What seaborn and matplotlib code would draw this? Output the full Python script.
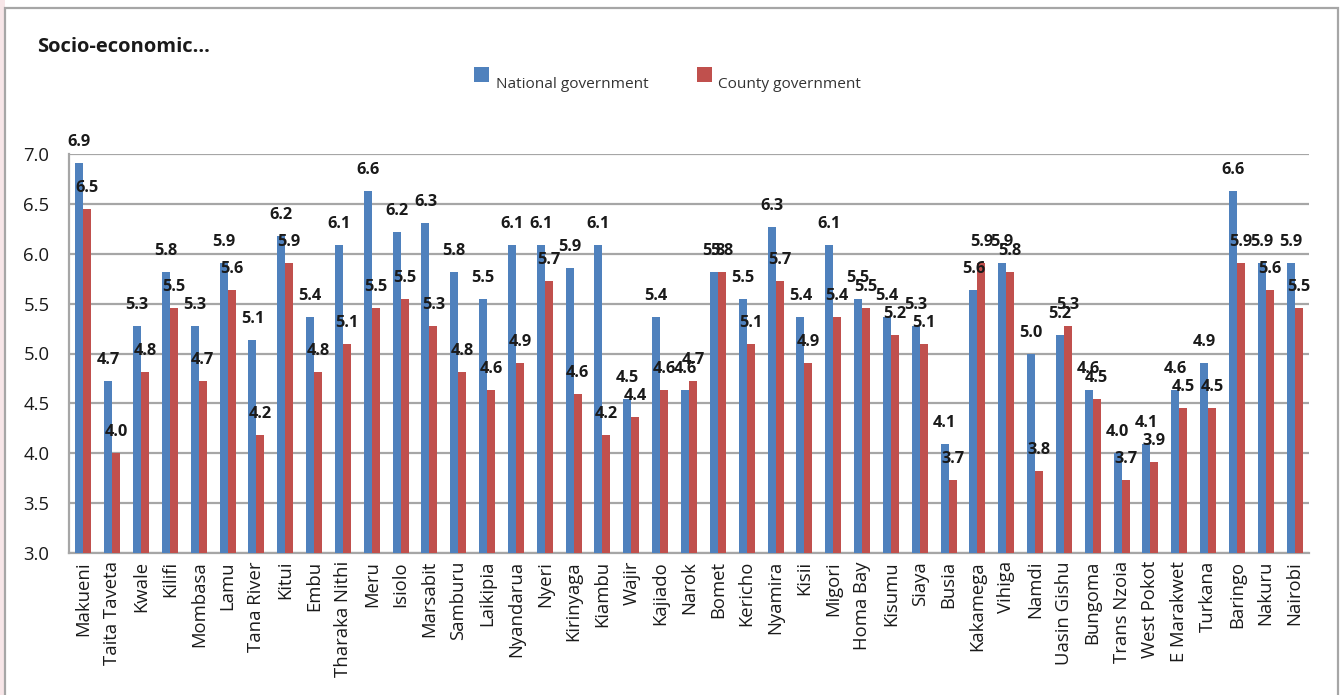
import matplotlib
matplotlib.use("Agg")
import matplotlib.pyplot as plt
from matplotlib.patches import Rectangle
import numpy as np
import pandas as pd
import seaborn as sns

counties = [
    "Makueni", "Taita Taveta", "Kwale", "Kilifi", "Mombasa", "Lamu", "Tana River",
    "Kitui", "Embu", "Tharaka Nithi", "Meru", "Isiolo", "Marsabit", "Samburu",
    "Laikipia", "Nyandarua", "Nyeri", "Kirinyaga", "Kiambu", "Wajir", "Kajiado",
    "Narok", "Bomet", "Kericho", "Nyamira", "Kisii", "Migori", "Homa Bay", "Kisumu",
    "Siaya", "Busia", "Kakamega", "Vihiga", "Namdi", "Uasin Gishu", "Bungoma",
    "Trans Nzoia", "West Pokot", "E Marakwet", "Turkana", "Baringo", "Nakuru", "Nairobi",
]

national = [
    6.909, 4.727, 5.273, 5.818, 5.273, 5.909, 5.14, 6.182, 5.364, 6.091, 6.636,
    6.22, 6.31, 5.818, 5.545, 6.091, 6.091, 5.86, 6.091, 4.545, 5.364, 4.636,
    5.818, 5.545, 6.273, 5.364, 6.091, 5.545, 5.364, 5.273, 4.091, 5.636, 5.909,
    5.000, 5.182, 4.636, 4.000, 4.091, 4.636, 4.909, 6.636, 5.909, 5.909,
]

county = [
    6.455, 4.000, 4.818, 5.455, 4.727, 5.636, 4.182, 5.909, 4.818, 5.091, 5.455,
    5.545, 5.273, 4.818, 4.636, 4.909, 5.727, 4.59, 4.182, 4.364, 4.636, 4.727,
    5.818, 5.091, 5.727, 4.909, 5.364, 5.455, 5.182, 5.091, 3.727, 5.909, 5.818,
    3.818, 5.273, 4.545, 3.727, 3.909, 4.455, 4.455, 5.909, 5.636, 5.455,
]

series_names = ["National government", "County government"]
series_colors = ["#4F81BD", "#C0504D"]
y_ticks = [3.0, 3.5, 4.0, 4.5, 5.0, 5.5, 6.0, 6.5, 7.0]
title = "Socio-economic..."

df = pd.DataFrame({
    "County": counties * 2,
    "Score": national + county,
    "Level": [series_names[0]] * len(counties) + [series_names[1]] * len(counties),
})

sns.set_theme(style="white")
plt.rcParams["font.family"] = ["Open Sans", "DejaVu Sans"]

W, H = 1344, 695
fig = plt.figure(figsize=(W / 100, H / 100), dpi=100)
fig.patch.set_facecolor("white")

# page edge and chart frame, kept behind the axes
fig.patches.append(Rectangle((0, 0), 5 / W, 1, transform=fig.transFigure,
                             facecolor="#F7E6E8", edgecolor="none", zorder=-10))
fig.patches.append(Rectangle((5 / W, -0.05), 1333 / W, 1 - 8 / H + 0.05,
                             transform=fig.transFigure, facecolor="white",
                             edgecolor="#A6A6A6", linewidth=1.6, zorder=-9))

ax = fig.add_axes([69 / W, 1 - 552.7 / H, (1309 - 69) / W, (552.7 - 154.3) / H])
ax.set_zorder(1)
ax.set_facecolor("none")

grid_col = "#A6A6A6"
sns.barplot(data=df, x="County", y="Score", hue="Level", hue_order=series_names,
            palette=series_colors, width=0.555, gap=0, linewidth=0,
            saturation=1, legend=False, ax=ax, zorder=3)

ax.set_ylim(3.0, 7.0)
ax.set_xlim(-0.5, len(counties) - 0.5)
ax.set_yticks(y_ticks)
ax.set_yticklabels([f"{v:.1f}" for v in y_ticks])
ax.yaxis.grid(True, color=grid_col, linewidth=1.6, zorder=0)
ax.set_axisbelow(True)
ax.set_xlabel("")
ax.set_ylabel("")

for side in ["top", "right"]:
    ax.spines[side].set_visible(False)
for side in ["left", "bottom"]:
    ax.spines[side].set_color(grid_col)
    ax.spines[side].set_linewidth(1.6)

ax.set_xticks(range(len(counties)))
ax.set_xticklabels(counties, rotation=90, fontsize=13.3, color="#1a1a1a")
ax.set_xticks(np.arange(-0.5, len(counties), 1.0), minor=True)
ax.tick_params(axis="x", which="major", length=0, pad=6)
ax.tick_params(axis="x", which="minor", length=5, width=1.6, color=grid_col, direction="out")
ax.tick_params(axis="y", which="major", length=5, width=1.6, color=grid_col,
               direction="out", labelsize=13.3, labelcolor="#1a1a1a", pad=9)

# value labels above each bar
for container, values in zip(ax.containers, [national, county]):
    for rect, v in zip(container.patches, values):
        ax.annotate(f"{v:.1f}", (rect.get_x() + rect.get_width() / 2, v),
                    xytext=(0, 12.2), textcoords="offset points",
                    ha="center", va="baseline", fontsize=11.8, fontweight="bold",
                    color="#1a1a1a", zorder=5, annotation_clip=False)

fig.text(37 / W, 1 - 47 / H, title, fontsize=14.5, fontweight="bold",
         color="#1a1a1a", va="center", ha="left")

# legend
for (x0, x1, tx), name, col in zip([(474, 489, 496), (697, 712, 718)], series_names, series_colors):
    fig.patches.append(Rectangle((x0 / W, 1 - 81.5 / H), (x1 - x0) / W, 14.5 / H,
                                 transform=fig.transFigure, facecolor=col,
                                 edgecolor="none", zorder=2))
    fig.text(tx / W, 1 - 88 / H, name, fontsize=11.1, color="#333333",
             va="baseline", ha="left")

fig.savefig("out.png", dpi=100)
